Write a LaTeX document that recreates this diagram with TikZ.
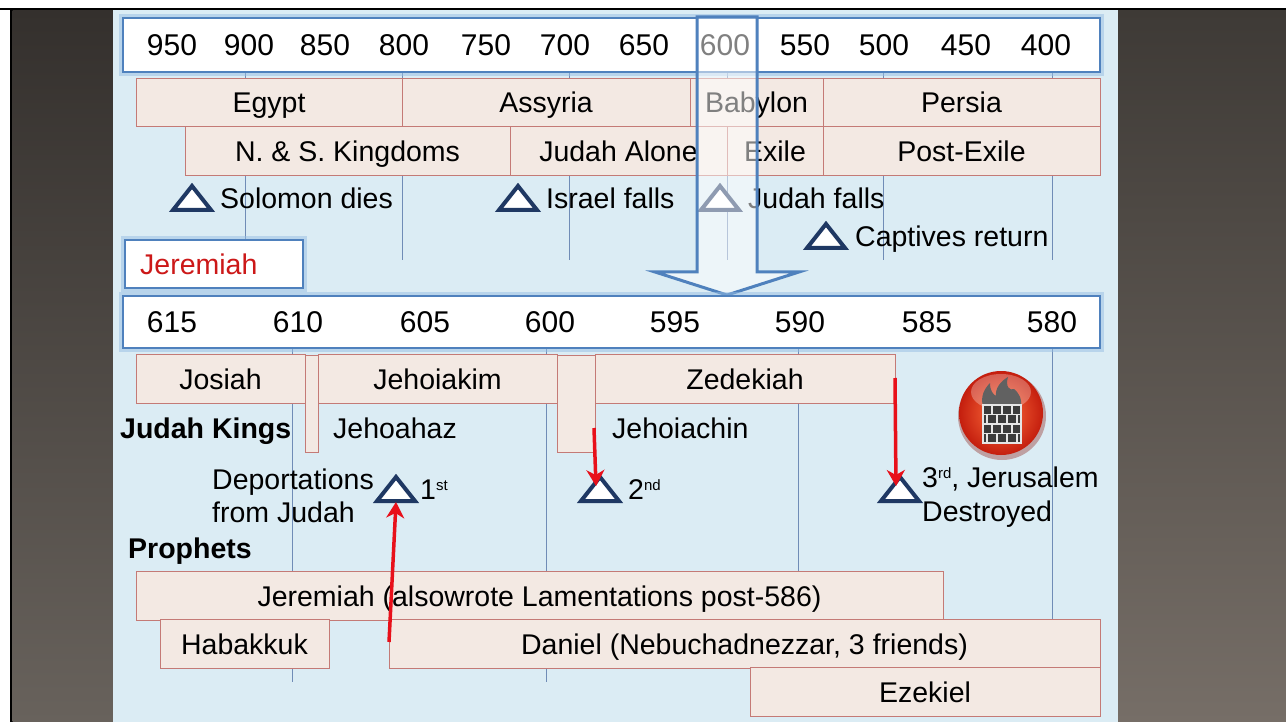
\documentclass[tikz,border=0pt]{standalone}
\usepackage{fontspec}
\setmainfont{Liberation Sans}
\usetikzlibrary{arrows.meta,calc}
\definecolor{bgblue}{RGB}{219,236,244}
\definecolor{panelTop}{RGB}{52,48,45}
\definecolor{panelBot}{RGB}{104,98,92}
\definecolor{rpanelTop}{RGB}{62,58,54}
\definecolor{rpanelBot}{RGB}{118,110,103}
\definecolor{bandfill}{RGB}{243,233,227}
\definecolor{bandline}{RGB}{196,122,118}
\definecolor{barblue}{RGB}{79,129,189}
\definecolor{glow}{RGB}{150,190,228}
\definecolor{navy}{RGB}{31,56,99}
\definecolor{jred}{RGB}{204,24,24}
\definecolor{arred}{RGB}{232,16,26}
\definecolor{gridc}{RGB}{112,140,182}
\definecolor{fireA}{RGB}{255,112,62}
\definecolor{fireB}{RGB}{196,30,14}
\definecolor{wallc}{RGB}{58,58,58}
\newcommand\fsN{\fontsize{28.5}{34}\selectfont}
\newcommand\fsY{\fontsize{30}{36}\selectfont}
\newcommand\fsS{\fontsize{15}{16}\selectfont}
\tikzset{
  bar/.style={draw=barblue, line width=2pt, fill=white, inner sep=0pt,
    preaction={draw=glow, line width=8pt, draw opacity=0.5}},
  band/.style={draw=bandline, fill=bandfill, line width=0.9pt, inner sep=0pt,
    font=\fsN, text height=20.4pt, text depth=0pt, minimum height=48.5pt},
  lbl/.style={font=\fsN, text height=20.4pt, text depth=0pt, inner sep=0pt},
  yr/.style={font=\fsY, text height=21.5pt, text depth=0pt, inner sep=0pt},
  gridl/.style={draw=gridc, line width=0.9pt},
  trist/.style={draw=navy, line width=4pt, fill=white},
  tri/.pic={\draw[trist] (-19,12) -- (0,-12) -- (19,12) -- cycle;},
  redarr/.style={draw=arred, line width=3.5pt, -{Stealth[length=16pt,width=18pt,inset=5pt]}},
  ovl/.style={draw=barblue, line width=3pt, fill=white, fill opacity=0.5},
}
\begin{document}
\begin{tikzpicture}[x=1pt,y=-1pt]
\useasboundingbox (0,0) rectangle (1286,722);
% frame and panels
\fill[white] (0,0) rectangle (1286,722);
\fill[black] (0,8) rectangle (1286,10.5);
\fill[black] (10,8) rectangle (12.5,722);
\shade[top color=panelTop,bottom color=panelBot] (12.5,10.5) rectangle (113,722);
\shade[top color=rpanelTop,bottom color=rpanelBot] (1118,10.5) rectangle (1286,722);
\fill[bgblue] (113,10.5) rectangle (1118,722);
% grid lines
\foreach \gx in {245,402,569,727,883,1052} \draw[gridl] (\gx,72) -- (\gx,260);
\foreach \gx in {292,546,798,1052} \draw[gridl] (\gx,348) -- (\gx,682);
% top year bar
\node[bar, minimum width=977pt, minimum height=54pt] (topbar) at (611.5,45) {};
\foreach \yv/\yx in {950/172,900/249,850/325,800/404,750/486,700/565,650/644,600/725,550/805,500/884,450/966,400/1046}
  \node[yr] (y\yv) at (\yx,45) {\yv};
% empire bands
\node[band, minimum width=266pt] (egypt) at (269,102.5) {Egypt};
\node[band, minimum width=288pt] (assyria) at (546,102.5) {Assyria};
\node[band, minimum width=133pt] (babylon) at (756.5,102.5) {Babylon};
\node[band, minimum width=277pt] (persia) at (961.5,102.5) {Persia};
\node[band, minimum width=325pt] (nsk) at (347.5,151) {N. \& S. Kingdoms};
\node[band, minimum width=217pt] (jalone) at (618.5,151) {Judah Alone};
\node[band, minimum width=96pt] (exile) at (775,151) {Exile};
\node[band, minimum width=277pt] (postexile) at (961.5,151) {Post-Exile};
% upper events
\pic at (192,198) {tri};
\node[lbl, anchor=west] (solomon) at (220,198) {Solomon dies};
\pic at (518,198) {tri};
\node[lbl, anchor=west] (israel) at (546,198) {Israel falls};
\pic at (720,198) {tri};
\node[lbl, anchor=west] (judahf) at (748,198) {Judah falls};
\pic at (826,236) {tri};
\node[lbl, anchor=west] (captives) at (855,236) {Captives return};
% zoom arrow overlay
\draw[ovl] (697,17) -- (757,17) -- (757,272) -- (799,272) -- (727,295) -- (655,272) -- (697,272) -- cycle;
% Jeremiah label
\node[bar, minimum width=178pt, minimum height=48pt] (jerlab) at (214,264) {};
\node[lbl, anchor=west, text=jred] (jerlabt) at (140,264) {Jeremiah};
% middle year bar
\node[bar, minimum width=977pt, minimum height=52pt] (midbar) at (611.5,322) {};
\foreach \yv/\yx in {615/172,610/298,605/425,600/550,595/675,590/800,585/927,580/1052}
  \node[yr] (m\yv) at (\yx,322) {\yv};
% kings
\node[band, minimum width=13pt, minimum height=97pt] (jehoahazb) at (311.5,403.5) {};
\node[band, minimum width=38pt, minimum height=97pt] (jehoiachinb) at (576,403.5) {};
\node[band, minimum width=169pt] (josiah) at (220.5,379) {Josiah};
\node[band, minimum width=239pt] (jehoiakim) at (437.5,379) {Jehoiakim};
\node[band, minimum width=300pt] (zedekiah) at (745,379) {Zedekiah};
\node[lbl, anchor=west, font=\fsN\bfseries] (jkings) at (120,428) {Judah Kings};
\node[lbl, anchor=west] (jehoahaz) at (333,428) {Jehoahaz};
\node[lbl, anchor=west] (jehoiachin) at (612,428) {Jehoiachin};
% deportations
\node[lbl, anchor=west] (deport) at (212,479) {Deportations};
\node[lbl, anchor=west] (fromj) at (212,512) {from Judah};
\coordinate (t1) at (396,489);
\coordinate (t2) at (600,489);
\coordinate (t3) at (900,489);
\pic at (t1) {tri};
\pic at (t2) {tri};
\pic at (t3) {tri};
\node[lbl, anchor=west] (first) at (420,489) {1\raisebox{9pt}{\fsS st}};
\node[lbl, anchor=west] (second) at (628,489) {2\raisebox{9pt}{\fsS nd}};
\node[lbl, anchor=west] (third) at (922,477) {3\raisebox{9pt}{\fsS rd}, Jerusalem};
\node[lbl, anchor=west] (destroyed) at (922,511) {Destroyed};
% prophets
\node[lbl, anchor=west, font=\fsN\bfseries] (prophets) at (128,548) {Prophets};
\node[band, minimum width=807pt] (jerp) at (539.5,596) {Jeremiah (alsowrote Lamentations post-586)};
\node[band, minimum width=169pt] (habakkuk) at (244.5,644) {Habakkuk};
\node[band, minimum width=711pt] (daniel) at (744.5,644) {Daniel (Nebuchadnezzar, 3 friends)};
\node[band, minimum width=350pt] (ezekiel) at (925,692) {Ezekiel};
% red arrows
\coordinate (a1s) at (389,642);
\coordinate (a1e) at (396,502);
\coordinate (a2s) at (594,428);
\coordinate (a2e) at (596,486);
\coordinate (a3s) at (895,378);
\coordinate (a3e) at (896,486);
\draw[redarr] (a1s) -- (a1e);
\draw[redarr] (a2s) -- (a2e);
\draw[redarr] (a3s) -- (a3e);
% fire icon
\coordinate (fire) at (1001,413);
\fill[fireB!70!black, opacity=0.35] (1002,416) circle (44);
\shade[inner color=fireA, outer color=fireB] (fire) circle (42);
\fill[white, opacity=0.28] (1001,392) ellipse (30 and 18);
\fill[wallc!80!white] (983,406) .. controls (980,396) and (985,388) .. (990,383)
  .. controls (990,391) and (993,394) .. (996,396)
  .. controls (995,388) and (1001,381) .. (1008,377)
  .. controls (1005,387) and (1010,391) .. (1014,389)
  .. controls (1020,394) and (1022,400) .. (1021,406) -- cycle;
\fill[wallc] (983,405) rectangle (1021,443);
\foreach \wy in {414.5,424,433.5} \draw[white!80!gray, line width=1.3pt] (983,\wy) -- (1021,\wy);
\foreach \wx in {992,1002,1012} {
  \draw[white!80!gray, line width=1.3pt] (\wx,405) -- (\wx,414.5);
  \draw[white!80!gray, line width=1.3pt] (\wx,424) -- (\wx,433.5);}
\foreach \wx in {987,997,1007,1017} {
  \draw[white!80!gray, line width=1.3pt] (\wx,414.5) -- (\wx,424);
  \draw[white!80!gray, line width=1.3pt] (\wx,433.5) -- (\wx,443);}
\draw[white!80!gray, line width=1.3pt] (983,405) rectangle (1021,443);
\end{tikzpicture}
\end{document}
